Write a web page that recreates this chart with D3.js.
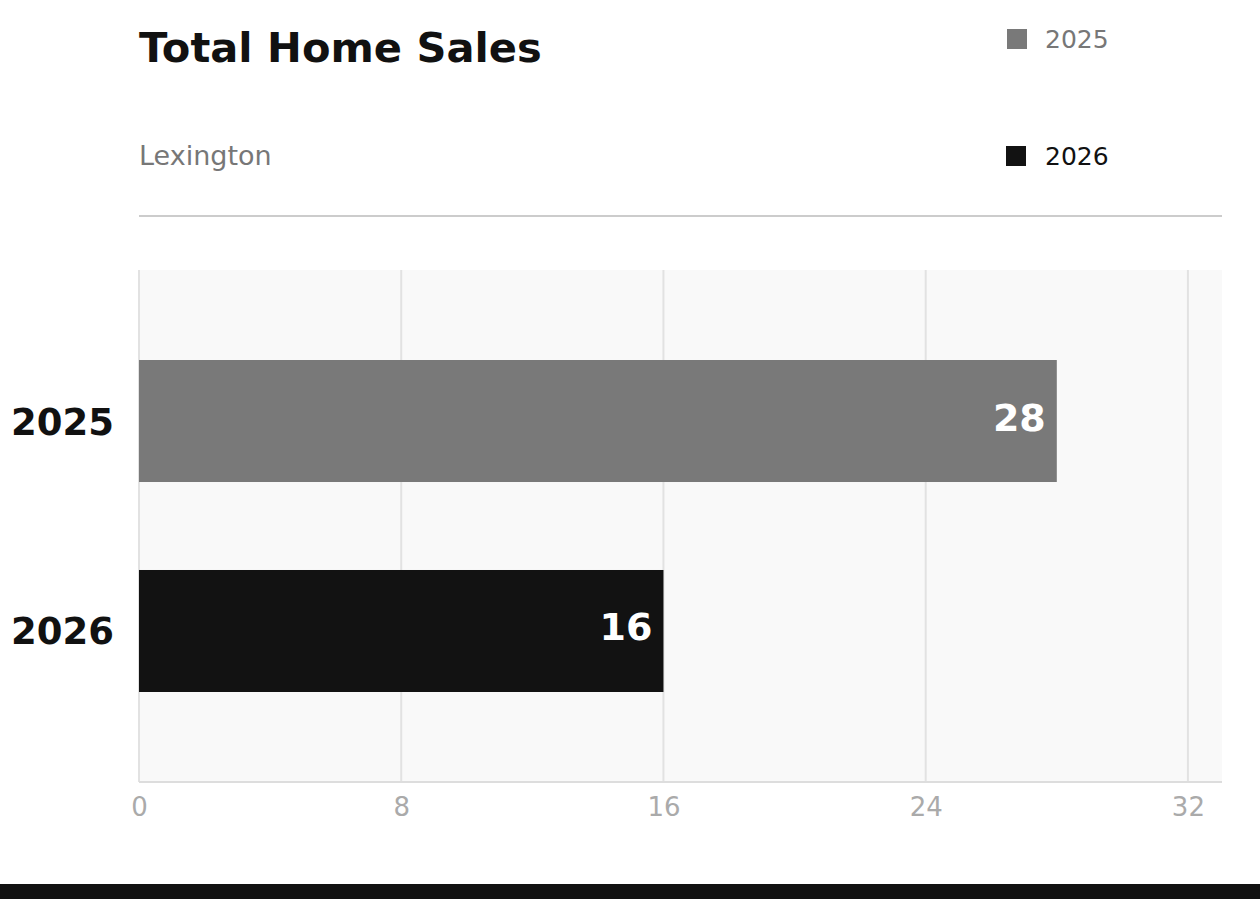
<!DOCTYPE html>
<html>
<head>
<meta charset="utf-8">
<script src="https://cdn.jsdelivr.net/npm/d3@7"></script>
<style>
  html, body { margin: 0; padding: 0; background: #fff; }
  svg { display: block; font-family: "DejaVu Sans", sans-serif; }
</style>
</head>
<body>
<svg id="chart" width="1260" height="899"></svg>
<script>
const categories = ["2025", "2026"];
const values = [28, 16];
const colors = ["#797979", "#121212"];
const legendTextColors = ["#777777", "#111111"];
const tickValues = [0, 8, 16, 24, 32];
const title = "Total Home Sales";
const subtitle = "Lexington";

const svg = d3.select("#chart");
const W = 1260, H = 899;
const m = { left: 139, right: 1222, top: 270, bottom: 782 };

// Title & subtitle
svg.append("text").attr("x", 139).attr("y", 62)
  .attr("font-size", 41.6).attr("font-weight", "bold").attr("fill", "#111")
  .text(title);
svg.append("text").attr("x", 139).attr("y", 165)
  .attr("font-size", 27).attr("fill", "#777")
  .text(subtitle);

// Legend
const legendY = [39, 156];
categories.forEach((c, i) => {
  svg.append("rect").attr("x", 1007 - (i ? 1 : 0)).attr("y", legendY[i] - 10)
    .attr("width", 20).attr("height", 20).attr("fill", colors[i]);
  svg.append("text").attr("x", 1045).attr("y", legendY[i] + 9)
    .attr("font-size", 25).attr("fill", legendTextColors[i]).text(c);
});

// separator
svg.append("line").attr("x1", 139).attr("x2", 1222).attr("y1", 216).attr("y2", 216)
  .attr("stroke", "#cccccc").attr("stroke-width", 2);

// scales
const x = d3.scaleLinear().domain([0, 33.04]).range([m.left, m.right]);
const y = d3.scaleBand().domain(categories).range([m.top, m.bottom])
  .paddingInner(0.419).paddingOuter(0.4286);

// plot bg
svg.append("rect").attr("x", m.left).attr("y", m.top)
  .attr("width", m.right - m.left).attr("height", m.bottom - m.top)
  .attr("fill", "#f9f9f9");

// gridlines
svg.append("g").selectAll("line").data(tickValues).join("line")
  .attr("x1", d => x(d)).attr("x2", d => x(d))
  .attr("y1", m.top).attr("y2", m.bottom)
  .attr("stroke", "#e2e2e2").attr("stroke-width", 2);

// bottom axis line
svg.append("line").attr("x1", m.left).attr("x2", m.right)
  .attr("y1", m.bottom).attr("y2", m.bottom)
  .attr("stroke", "#dddddd").attr("stroke-width", 2);

// x axis tick labels via d3 axis
const xAxis = d3.axisBottom(x).tickValues(tickValues).tickSize(0).tickPadding(0);
const gx = svg.append("g").attr("transform", `translate(0,${m.bottom})`).call(xAxis);
gx.select(".domain").remove();
gx.selectAll("text").attr("font-size", 26).attr("fill", "#aaaaaa")
  .attr("font-family", "DejaVu Sans, sans-serif").attr("dy", null).attr("y", 34);

// y axis labels
const yAxis = d3.axisLeft(y).tickSize(0).tickPadding(0);
const gy = svg.append("g").attr("transform", `translate(114,0)`).call(yAxis);
gy.select(".domain").remove();
gy.selectAll("text").attr("font-size", 37).attr("font-weight", "bold").attr("fill", "#111")
  .attr("font-family", "DejaVu Sans, sans-serif").attr("dy", null).attr("y", 13.5);

// bars
svg.append("g").selectAll("rect").data(categories).join("rect")
  .attr("x", x(0)).attr("y", d => y(d))
  .attr("width", (d, i) => x(values[i]) - x(0))
  .attr("height", y.bandwidth())
  .attr("fill", (d, i) => colors[i]);

// value labels
svg.append("g").selectAll("text").data(categories).join("text")
  .attr("x", (d, i) => x(values[i]) - 11)
  .attr("y", d => y(d) + y.bandwidth() / 2 + 9.5)
  .attr("text-anchor", "end").attr("font-size", 38).attr("font-weight", "bold")
  .attr("fill", "#ffffff")
  .text((d, i) => values[i]);

// bottom black band
svg.append("rect").attr("x", 0).attr("y", 884).attr("width", W).attr("height", 15).attr("fill", "#111");
</script>
</body>
</html>
